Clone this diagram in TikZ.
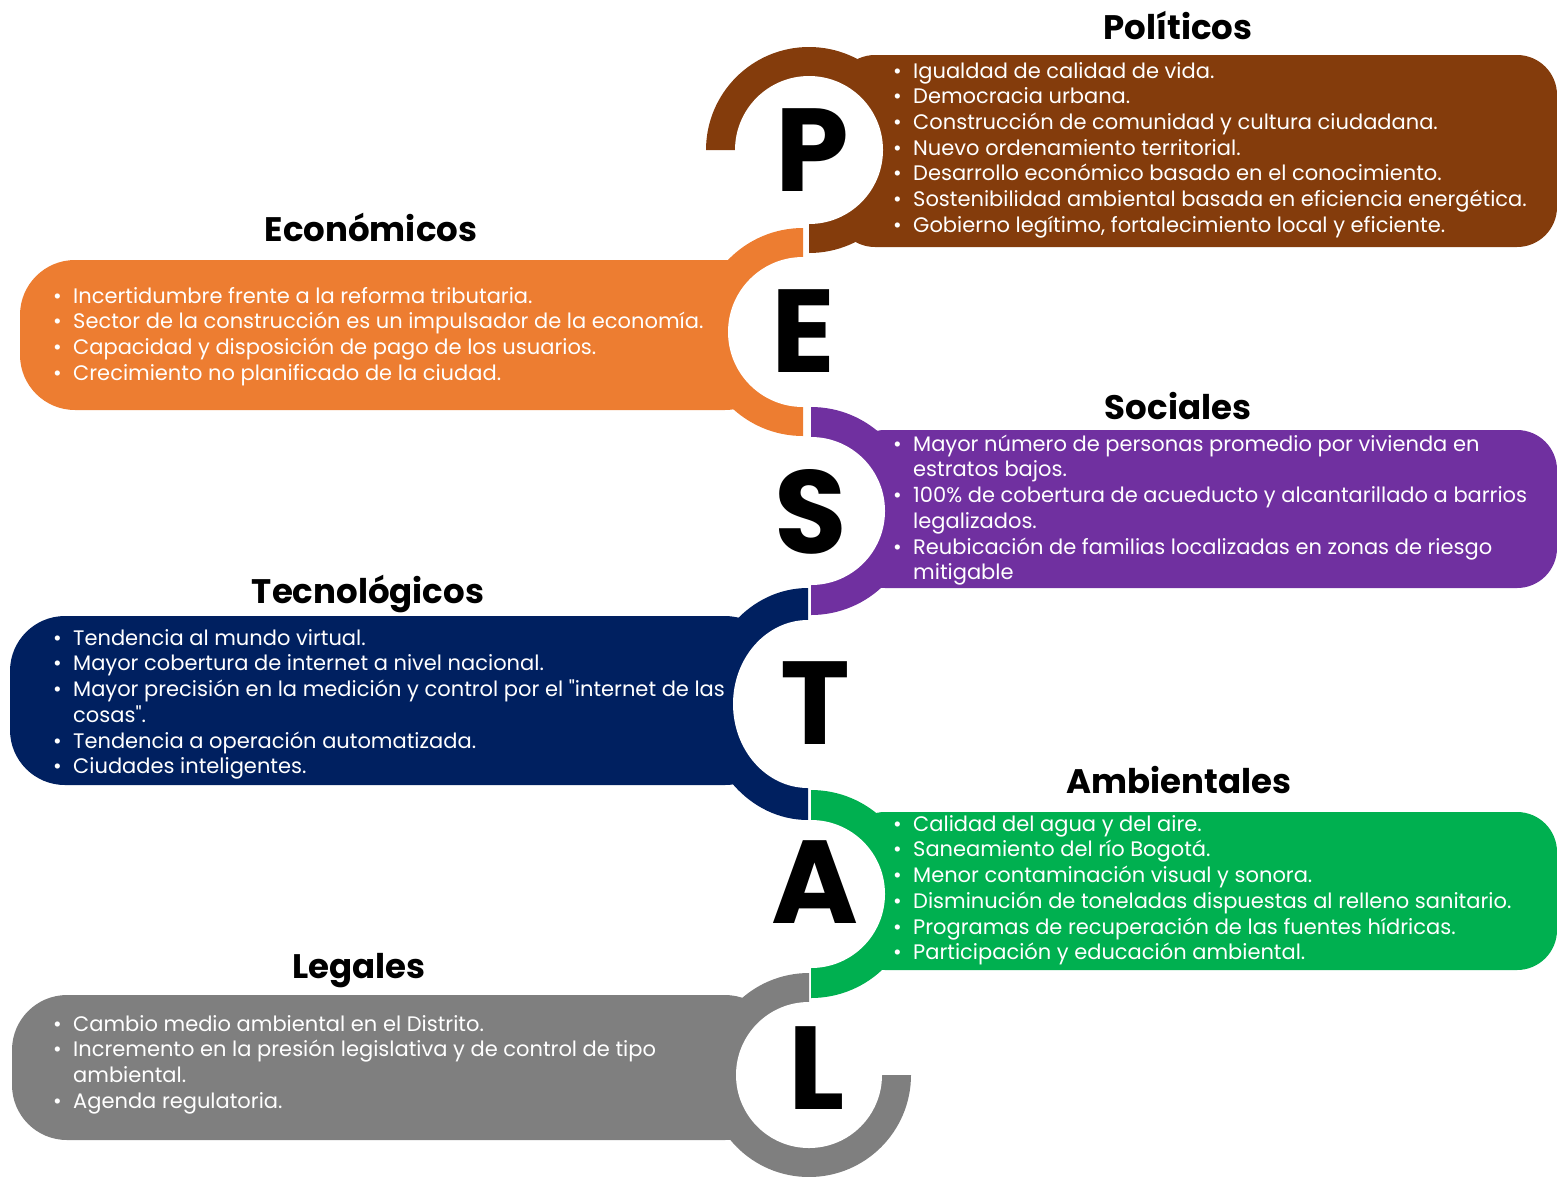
\documentclass[tikz,border=0pt]{standalone}
\usepackage{fontspec}
\setmainfont{Poppins}
\definecolor{cBrown}{HTML}{843C0C}
\definecolor{cOrange}{HTML}{ED7D31}
\definecolor{cPurple}{HTML}{7030A0}
\definecolor{cNavy}{HTML}{002060}
\definecolor{cGreen}{HTML}{00B050}
\definecolor{cGray}{HTML}{7F7F7F}
\newcommand\bitem[1]{\strut\makebox[20pt][l]{\textbullet}#1}
\newcommand\citem[1]{\strut\hspace*{20pt}#1}
\tikzset{
  bodytext/.style={font=\fontsize{21}{25.7}\selectfont, text=white, align=left, anchor=north west, inner sep=0pt},
  heading/.style={font=\fontsize{34}{40}\selectfont\bfseries, text=black, anchor=base, inner sep=0pt},
  bigletter/.style={font=\fontsize{118}{130}\selectfont\bfseries, text=black, anchor=center, inner sep=0pt},
  hole/.style={fill=white}
}
\begin{document}
\begin{tikzpicture}[x=1pt,y=-1pt]
\useasboundingbox (0,0) rectangle (1557,1176);
% ---------- P : Politicos ----------
\fill[cBrown, rounded corners=40pt] (835,55) rectangle (1557,247);
\fill[cBrown] (809,150) -- +(180:103pt) arc[start angle=180, end angle=-90, radius=103pt] -- cycle;
\fill[hole] (809,150) circle[radius=74pt];
% ---------- E : Economicos ----------
\fill[cOrange, rounded corners=55pt] (20,260) rectangle (780,410);
\fill[cOrange] (803,332) -- +(90:104pt) arc[start angle=90, end angle=270, radius=104pt] -- cycle;
\fill[hole] (803,332) circle[radius=75pt];
% ---------- S : Sociales ----------
\fill[cPurple, rounded corners=40pt] (845,430) rectangle (1557,588);
\fill[cPurple] (811,511) -- +(90:104pt) arc[start angle=90, end angle=-90, radius=104pt] -- cycle;
\fill[hole] (811,511) circle[radius=74pt];
% ---------- T : Tecnologicos ----------
\fill[cNavy, rounded corners=55pt] (10,616) rectangle (780,785);
\fill[cNavy] (808,704) -- +(0,-116) arc[start angle=90, end angle=270, x radius=104pt, y radius=116pt] -- cycle;
\fill[hole] (808,704) ellipse[x radius=75pt, y radius=84pt];
% ---------- A : Ambientales ----------
\fill[cGreen, rounded corners=40pt] (845,812) rectangle (1557,970);
\fill[cGreen] (811,894) -- +(90:104pt) arc[start angle=90, end angle=-90, radius=104pt] -- cycle;
\fill[hole] (811,894) circle[radius=74pt];
% ---------- L : Legales ----------
\fill[cGray, rounded corners=55pt] (12,995) rectangle (780,1140);
\fill[cGray] (809,1075) -- +(90:102pt) arc[start angle=90, end angle=360, radius=102pt] -- cycle;
\fill[hole] (809,1075) circle[radius=73pt];
% ---------- letters ----------
\node[bigletter] (lP) at (812,150) {P};
\node[bigletter] (lE) at (803,331) {E};
\node[bigletter] (lS) at (811,512) {S};
\node[bigletter] (lT) at (815,703) {T};
\node[bigletter] (lA) at (815,882) {A};
\node[bigletter] (lL) at (817,1068) {L};
% ---------- headings ----------
\node[heading] (hP) at (1178,39) {Políticos};
\node[heading] (hE) at (371,241) {Económicos};
\node[heading] (hS) at (1178,419) {Sociales};
\node[heading] (hT) at (368,603) {Tecnológicos};
\node[heading] (hA) at (1179,793) {Ambientales};
\node[heading] (hL) at (359,978) {Legales};
% ---------- texts ----------
\node[bodytext] (tP) at (893,60) {%
\bitem{Igualdad de calidad de vida.}\\
\bitem{Democracia urbana.}\\
\bitem{Construcción de comunidad y cultura ciudadana.}\\
\bitem{Nuevo ordenamiento territorial.}\\
\bitem{Desarrollo económico basado en el conocimiento.}\\
\bitem{Sostenibilidad ambiental basada en eficiencia energética.}\\
\bitem{Gobierno legítimo, fortalecimiento local y eficiente.}};
\node[bodytext] (tE) at (53,285) {%
\bitem{Incertidumbre frente a la reforma tributaria.}\\
\bitem{Sector de la construcción es un impulsador de la economía.}\\
\bitem{Capacidad y disposición de pago de los usuarios.}\\
\bitem{Crecimiento no planificado de la ciudad.}};
\node[bodytext] (tS) at (893,433) {%
\bitem{Mayor número de personas promedio por vivienda en}\\
\citem{estratos bajos.}\\
\bitem{100\% de cobertura de acueducto y alcantarillado a barrios}\\
\citem{legalizados.}\\
\bitem{Reubicación de familias localizadas en zonas de riesgo}\\
\citem{mitigable}};
\node[bodytext] (tT) at (53,627) {%
\bitem{Tendencia al mundo virtual.}\\
\bitem{Mayor cobertura de internet a nivel nacional.}\\
\bitem{Mayor precisión en la medición y control por el \textquotedbl internet de las}\\
\citem{cosas\textquotedbl.}\\
\bitem{Tendencia a operación automatizada.}\\
\bitem{Ciudades inteligentes.}};
\node[bodytext] (tA) at (893,813) {%
\bitem{Calidad del agua y del aire.}\\
\bitem{Saneamiento del río Bogotá.}\\
\bitem{Menor contaminación visual y sonora.}\\
\bitem{Disminución de toneladas dispuestas al relleno sanitario.}\\
\bitem{Programas de recuperación de las fuentes hídricas.}\\
\bitem{Participación y educación ambiental.}};
\node[bodytext] (tL) at (53,1013) {%
\bitem{Cambio medio ambiental en el Distrito.}\\
\bitem{Incremento en la presión legislativa y de control de tipo}\\
\citem{ambiental.}\\
\bitem{Agenda regulatoria.}};
\end{tikzpicture}
\end{document}
